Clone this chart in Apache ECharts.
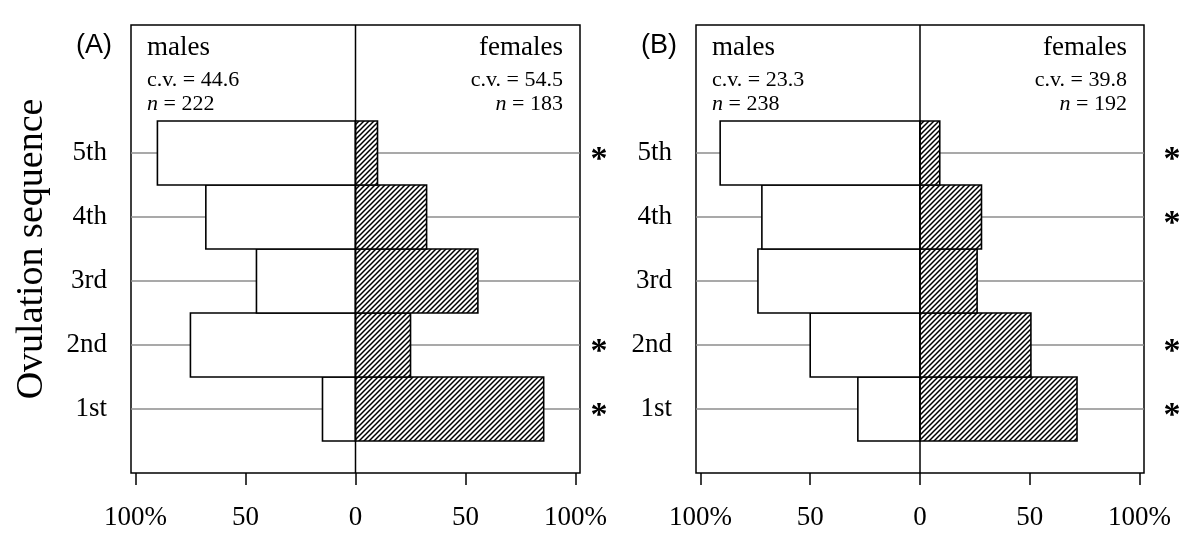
<!DOCTYPE html>
<html>
<head>
    <title>Ovulation sequence</title>
    <script src="https://cdn.jsdelivr.net/npm/echarts@6/dist/echarts.min.js"></script>
    <style>
        html, body { margin: 0; padding: 0; background: #fff; }
        #chart { width: 1200px; height: 552px; }
    </style>
</head>
<body>
    <div id="chart"></div>

    <script>
        // data (percent of each sex)
        var categories = ['1st', '2nd', '3rd', '4th', '5th'];
        var malesA = [15, 75, 45, 68, 90];
        var femalesA = [85.5, 25, 55.6, 32.3, 10];
        var malesB = [28.3, 50, 73.8, 72, 91];
        var femalesB = [71.5, 50.5, 26, 28, 9];
        var sigA = ['1st', '2nd', '5th'];
        var sigB = ['1st', '2nd', '4th', '5th'];
        var xTicks = [-100, -50, 0, 50, 100];
        var panelA = { tag: '(A)', cvM: '44.6', nM: '222', cvF: '54.5', nF: '183' };
        var panelB = { tag: '(B)', cvM: '23.3', nM: '238', cvF: '39.8', nF: '192' };

        var serif = 'Liberation Serif';
        var XMAX = 102;

        // diagonal hatch for the female bars
        function hatch() {
            var c = document.createElement('canvas');
            c.width = 5; c.height = 5;
            var g = c.getContext('2d');
            g.fillStyle = '#fff';
            g.fillRect(0, 0, 5, 5);
            g.strokeStyle = '#000';
            g.lineWidth = 1.5;
            g.beginPath();
            g.moveTo(-1, 6); g.lineTo(6, -1);
            g.moveTo(-1, 1); g.lineTo(1, -1);
            g.moveTo(4, 6); g.lineTo(6, 4);
            g.stroke();
            return c;
        }
        var hatchFill = { image: hatch(), repeat: 'repeat' };

        function barRender(fill) {
            return function (params, api) {
                var x = api.value(0), y = api.value(1);
                var p0 = api.coord([Math.min(x, 0), y + 0.5]);
                var p1 = api.coord([Math.max(x, 0), y - 0.5]);
                return {
                    type: 'rect',
                    shape: { x: p0[0], y: p0[1], width: p1[0] - p0[0], height: p1[1] - p0[1] },
                    style: { fill: fill, stroke: '#000', lineWidth: 1.6 }
                };
            };
        }

        function gridLineRender(params, api) {
            var y = api.value(0);
            var a = api.coord([-XMAX, y]), b = api.coord([XMAX, y]);
            return {
                type: 'line',
                shape: { x1: a[0], y1: a[1], x2: b[0], y2: b[1] },
                style: { stroke: '#8c8c8c', lineWidth: 1.4 }
            };
        }

        function zeroLineRender(params, api) {
            var a = api.coord([0, 0]), b = api.coord([0, 7]);
            return {
                type: 'line',
                shape: { x1: a[0], y1: a[1], x2: b[0], y2: b[1] },
                style: { stroke: '#000', lineWidth: 1.5 }
            };
        }

        function starRender(gap) {
            return function (params, api) {
                var p = api.coord([XMAX, api.value(0)]);
                return {
                    type: 'text',
                    x: p[0] + gap,
                    y: p[1] + 7,
                    style: { text: '*', font: 'bold 34px "' + serif + '"', fill: '#000', align: 'center', verticalAlign: 'middle' }
                };
            };
        }

        function panelSeries(idx, males, females, sig, starGap) {
            var ax = { xAxisIndex: idx, yAxisIndex: idx };
            return [
                Object.assign({ type: 'custom', z: 1, renderItem: gridLineRender,
                    data: categories.map(function (c, i) { return [i + 1]; }) }, ax),
                Object.assign({ type: 'custom', z: 2, renderItem: barRender('#fff'),
                    data: males.map(function (v, i) { return [-v, i + 1]; }) }, ax),
                Object.assign({ type: 'custom', z: 2, renderItem: barRender(hatchFill),
                    data: females.map(function (v, i) { return [v, i + 1]; }) }, ax),
                Object.assign({ type: 'custom', z: 3, renderItem: zeroLineRender, data: [[0]] }, ax),
                Object.assign({ type: 'custom', z: 3, renderItem: starRender(starGap),
                    data: sig.map(function (c) { return [categories.indexOf(c) + 1]; }) }, ax)
            ];
        }

        function xAxis(idx) {
            return {
                type: 'value', gridIndex: idx, min: -XMAX, max: XMAX,
                axisLine: { show: false },
                splitLine: { show: false },
                axisTick: { show: true, length: 12, customValues: xTicks, lineStyle: { color: '#000', width: 1.5 } },
                axisLabel: {
                    customValues: xTicks, margin: 24, color: '#000', fontFamily: serif, fontSize: 27,
                    formatter: function (v) { return Math.abs(v) === 100 ? '100%' : String(Math.abs(v)); }
                }
            };
        }

        function yAxis(idx, name) {
            return {
                type: 'value', gridIndex: idx, min: 0, max: 7,
                axisLine: { show: false },
                splitLine: { show: false },
                axisTick: { show: true, length: 10, customValues: [1, 2, 3, 4, 5], lineStyle: { color: '#000', width: 1.5 } },
                axisLabel: {
                    customValues: [1, 2, 3, 4, 5], margin: 24, color: '#000', fontFamily: serif, fontSize: 27,
                    formatter: function (v) { return categories[v - 1]; }
                },
                name: name,
                nameLocation: 'middle',
                nameGap: 70,
                nameTextStyle: { color: '#000', fontFamily: serif, fontSize: 38 }
            };
        }

        function panelText(p, left, right) {
            var small = { fontFamily: serif, fontSize: 22, fill: '#000' };
            var rich = { i: { fontStyle: 'italic', fontFamily: serif, fontSize: 22 } };
            return [
                { type: 'text', x: left - 55, y: 22, style: { text: p.tag, font: '27px "Liberation Sans"', fill: '#000' } },
                { type: 'text', x: left + 16, y: 48, style: { text: 'males', font: '27px "' + serif + '"', fill: '#000', verticalAlign: 'middle' } },
                { type: 'text', x: left + 16, y: 80, style: Object.assign({ text: 'c.v. = ' + p.cvM, verticalAlign: 'middle' }, small) },
                { type: 'text', x: left + 16, y: 104, style: Object.assign({ text: '{i|n} = ' + p.nM, verticalAlign: 'middle', rich: rich }, small) },
                { type: 'text', x: right - 17, y: 48, style: { text: 'females', font: '27px "' + serif + '"', fill: '#000', align: 'right', verticalAlign: 'middle' } },
                { type: 'text', x: right - 17, y: 80, style: Object.assign({ text: 'c.v. = ' + p.cvF, align: 'right', verticalAlign: 'middle' }, small) },
                { type: 'text', x: right - 17, y: 104, style: Object.assign({ text: '{i|n} = ' + p.nF, align: 'right', verticalAlign: 'middle', rich: rich }, small) }
            ];
        }

        var chart = echarts.init(document.getElementById('chart'));
        var grids = [
            { left: 131, top: 25, width: 449, height: 448 },
            { left: 696, top: 25, width: 448, height: 448 }
        ].map(function (g) {
            return Object.assign({
                show: true, borderColor: '#000', borderWidth: 1.5, backgroundColor: 'transparent',
                containLabel: false, outerBoundsMode: 'none'
            }, g);
        });

        chart.setOption({
            animation: false,
            backgroundColor: '#fff',
            textStyle: { fontFamily: serif },
            grid: grids,
            xAxis: [xAxis(0), xAxis(1)],
            yAxis: [yAxis(0, 'Ovulation sequence'), yAxis(1, '')],
            series: panelSeries(0, malesA, femalesA, sigA, 19).concat(panelSeries(1, malesB, femalesB, sigB, 28)),
            graphic: panelText(panelA, 131, 580).concat(panelText(panelB, 696, 1144))
        });
    </script>
</body>
</html>
